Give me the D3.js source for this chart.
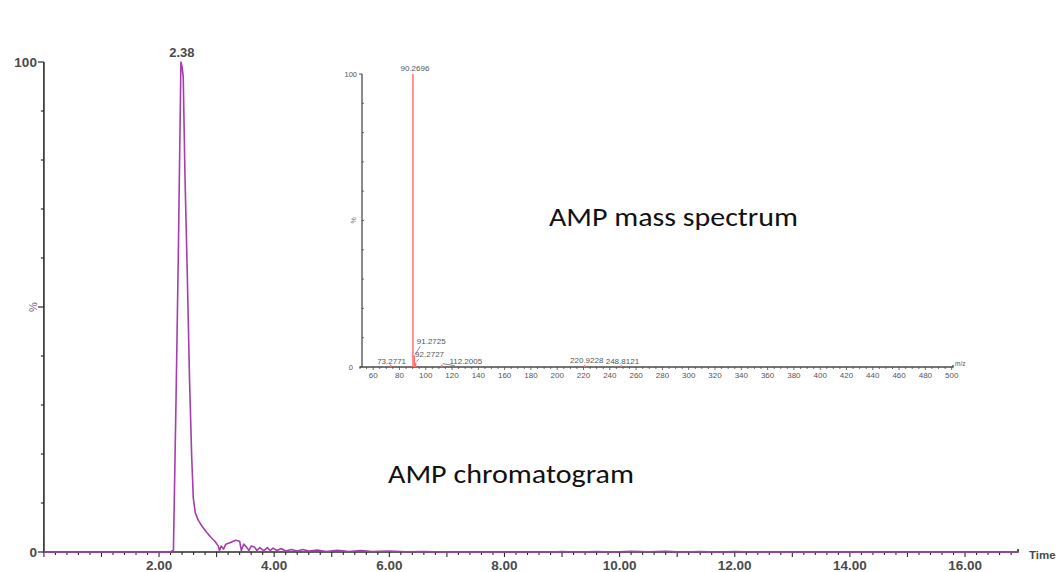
<!DOCTYPE html>
<html>
<head>
<meta charset="utf-8">
<script src="https://cdn.jsdelivr.net/npm/d3@7"></script>
<style>
  body { margin: 0; background: #fff; }
  svg { display: block; }
</style>
</head>
<body>
<svg id="chart" width="1059" height="572"></svg>
<script>
// ---------------- DATA ----------------
// Chromatogram (time, min) and relative intensity (%)
const chromTime = [0, 2.20, 2.25, 2.295, 2.334, 2.364, 2.38, 2.40, 2.42, 2.45, 2.49, 2.53, 2.567, 2.595, 2.63, 2.68,
  2.75, 2.83, 2.90, 2.97, 3.03, 3.05, 3.08, 3.12, 3.16, 3.25, 3.33, 3.40, 3.43, 3.47, 3.52, 3.56, 3.60, 3.66,
  3.70, 3.75, 3.82, 3.88, 3.93, 3.98, 4.05, 4.12, 4.20, 4.30, 4.40, 4.50, 4.60, 4.75, 4.90, 5.10, 5.30, 5.50,
  5.70, 6.00, 6.30, 6.60, 7.00, 8.80, 9.00, 9.30, 9.60, 9.90, 10.20, 10.50, 10.80, 11.10, 11.40, 11.70, 12.00,
  12.40, 16.92];
const chromIntensity = [0, 0, 0.4, 31, 60, 86, 100, 99, 97, 77, 57, 35, 19.5, 11, 8, 6.5,
  5.2, 4, 3, 2.2, 1.2, 0.3, 1.2, 0.6, 1.6, 2.0, 2.4, 2.2, 0.3, 1.6, 1.0, 0.3, 1.2, 1.0,
  0.3, 0.9, 0.3, 0.9, 0.3, 0.8, 0.3, 0.7, 0.2, 0.5, 0.2, 0.5, 0.2, 0.4, 0.1, 0.35, 0.1, 0.3,
  0.1, 0.2, 0.05, 0.1, 0, 0, 0.1, 0, 0.1, 0, 0.15, 0.05, 0.15, 0, 0.1, 0, 0.1,
  0, 0];
const peakLabel = "2.38";
const peakTime = 2.38;

const timeTickLabels = ["2.00", "4.00", "6.00", "8.00", "10.00", "12.00", "14.00", "16.00"];
const intensityTickLabels = ["0", "100"];

// Mass spectrum inset
const mzValues = [73.2771, 90.2696, 91.2725, 92.2727, 112.2005, 220.9228, 248.8121];
const mzIntensity = [0.8, 100, 4, 1.5, 0.8, 0.6, 0.6];
const mzTickLabels = [60, 80, 100, 120, 140, 160, 180, 200, 220, 240, 260, 280, 300, 320, 340, 360, 380,
  400, 420, 440, 460, 480, 500];

const titleSpectrum = "AMP mass spectrum";
const titleChrom = "AMP chromatogram";

// ---------------- LAYOUT ----------------
const svg = d3.select("#chart");
const axisColor = "#2b2b2b";
const textColor = "#4a4a4a";
const traceColor = "#a63cae";
const font = "Liberation Sans, Arial, sans-serif";

// Main chart scales
const x = d3.scaleLinear().domain([0, 16.92]).range([43.9, 1018]);
const y = d3.scaleLinear().domain([0, 100]).range([552, 62]);

// Y axis line
svg.append("line").attr("x1", x(0)).attr("x2", x(0)).attr("y1", y(0)).attr("y2", y(100))
  .attr("stroke", axisColor).attr("stroke-width", 1.6);
// Y ticks (every 10, longer at 0, 50, 100)
d3.range(0, 101, 10).forEach(v => {
  const len = (v % 50 === 0) ? 6 : 3;
  svg.append("line").attr("x1", x(0) - len).attr("x2", x(0)).attr("y1", y(v)).attr("y2", y(v))
    .attr("stroke", axisColor).attr("stroke-width", 1.2);
});
intensityTickLabels.forEach(l => {
  svg.append("text").attr("x", x(0) - 7).attr("y", y(+l)).attr("dy", "0.35em")
    .attr("text-anchor", "end").attr("font-family", font).attr("font-weight", "bold")
    .attr("font-size", 13.5).attr("fill", textColor).text(l);
});
svg.append("text").attr("transform", `translate(${x(0) - 11},${y(50)}) rotate(-90)`)
  .attr("text-anchor", "middle").attr("dy", "0.35em")
  .attr("font-family", font).attr("font-size", 11)
  .attr("fill", "#6a5a7a").text("%");

// X axis line with end hook
svg.append("path")
  .attr("d", `M${x(0)},${y(0)} H${x(16.92)} v-3`)
  .attr("fill", "none").attr("stroke", axisColor).attr("stroke-width", 1.6);
// X ticks every 0.2, longer every 1
d3.range(0, 85).forEach(i => {
  const t = i * 0.2;
  if (t > 16.92) return;
  const len = (i % 5 === 0) ? 5 : 3;
  svg.append("line").attr("x1", x(t)).attr("x2", x(t)).attr("y1", y(0)).attr("y2", y(0) + len)
    .attr("stroke", axisColor).attr("stroke-width", 1.1);
});
timeTickLabels.forEach(l => {
  svg.append("text").attr("x", x(+l)).attr("y", 570)
    .attr("text-anchor", "middle").attr("font-family", font).attr("font-weight", "bold")
    .attr("font-size", 13.5).attr("fill", textColor).text(l);
});
svg.append("text").attr("x", 1029).attr("y", 559)
  .attr("font-family", font).attr("font-size", 11.5).attr("font-weight", "bold")
  .attr("fill", textColor).text("Time");

// Chromatogram trace
const chromData = chromTime.map((t, i) => [t, chromIntensity[i]]);
const line = d3.line().x(d => x(d[0])).y(d => y(d[1]));
svg.append("path").datum(chromData).attr("d", line)
  .attr("fill", "none").attr("stroke", traceColor).attr("stroke-width", 1.6)
  .attr("stroke-linejoin", "round");
svg.append("text").attr("x", x(peakTime) + 1).attr("y", y(100) - 5)
  .attr("text-anchor", "middle").attr("font-family", font).attr("font-weight", "bold")
  .attr("font-size", 13).attr("fill", textColor).text(peakLabel);

// ---------------- INSET: mass spectrum ----------------
const mx = d3.scaleLinear().domain([50, 501]).range([360, 953]);
const my = d3.scaleLinear().domain([0, 100]).range([367, 74]);
const insetAxis = "#4a4a4a";
const insetText = "#555";

svg.append("line").attr("x1", mx(50) + 2).attr("x2", mx(50) + 2).attr("y1", my(0)).attr("y2", my(100))
  .attr("stroke", insetAxis).attr("stroke-width", 1.3);
svg.append("line").attr("x1", mx(50) + 2).attr("x2", mx(50) - 1).attr("y1", my(100)).attr("y2", my(100))
  .attr("stroke", insetAxis).attr("stroke-width", 1);
[10, 20, 30, 40, 50, 60, 70, 80, 90].forEach(v => {
  svg.append("line").attr("x1", mx(50) + 2).attr("x2", mx(50) + 4).attr("y1", my(v)).attr("y2", my(v))
    .attr("stroke", insetAxis).attr("stroke-width", 0.8);
});
svg.append("line").attr("x1", mx(50) - 1).attr("x2", mx(50) + 2).attr("y1", my(0)).attr("y2", my(0))
  .attr("stroke", insetAxis).attr("stroke-width", 1);
svg.append("text").attr("x", mx(50) - 3).attr("y", my(100)).attr("dy", "0.35em")
  .attr("text-anchor", "end").attr("font-family", font)
  .attr("font-size", 7.5).attr("fill", insetText).text("100");
svg.append("text").attr("x", mx(50) - 7).attr("y", my(0)).attr("dy", "0.35em")
  .attr("text-anchor", "end").attr("font-family", font)
  .attr("font-size", 7.5).attr("fill", insetText).text("0");
svg.append("text").attr("transform", `translate(${mx(50) - 6},${my(50)}) rotate(-90)`)
  .attr("text-anchor", "middle").attr("dy", "0.35em")
  .attr("font-family", font).attr("font-size", 7)
  .attr("fill", "#777").text("%");

// inset x axis
svg.append("path").attr("d", `M${mx(50)},${my(0)} H${mx(501)} v-2`)
  .attr("fill", "none").attr("stroke", insetAxis).attr("stroke-width", 1.3);
d3.range(50, 501, 5).forEach(v => {
  const len = (v % 20 === 0) ? 3 : 2;
  svg.append("line").attr("x1", mx(v)).attr("x2", mx(v)).attr("y1", my(0)).attr("y2", my(0) + len)
    .attr("stroke", insetAxis).attr("stroke-width", 0.8);
});
mzTickLabels.forEach(v => {
  svg.append("text").attr("x", mx(v)).attr("y", my(0) + 11)
    .attr("text-anchor", "middle").attr("font-family", font)
    .attr("font-size", 8).attr("fill", insetText).text(v);
});
svg.append("text").attr("x", 955).attr("y", my(0) - 1)
  .attr("font-family", font).attr("font-size", 6.5)
  .attr("fill", insetText).text("m/z");

// spectrum sticks
svg.selectAll(".stick").data(mzValues).enter().append("line")
  .attr("x1", d => mx(d)).attr("x2", d => mx(d))
  .attr("y1", my(0)).attr("y2", (d, i) => my(mzIntensity[i]))
  .attr("stroke", "#ff6f6f").attr("stroke-width", 1.5);

// peak labels: offsets from peak top (layout only)
const labelOffsets = [[1, -1], [2, -3], [17, -11], [14, -5.5], [24, -1], [2, -2], [1, -1]];
const leaderLines = [false, false, true, true, true, false, false];
mzValues.forEach((m, i) => {
  const px = mx(m), py = my(mzIntensity[i]);
  const [dx, dy] = labelOffsets[i];
  svg.append("text").attr("x", px + dx).attr("y", py + dy)
    .attr("text-anchor", "middle").attr("font-family", font)
    .attr("font-size", 8).attr("fill", insetText).text(m.toFixed(4));
  if (leaderLines[i]) {
    svg.append("line").attr("x1", px + 1).attr("y1", py - 1)
      .attr("x2", px + dx - 11).attr("y2", py + dy + 2)
      .attr("stroke", "#555").attr("stroke-width", 0.7);
  }
});

// Titles
svg.append("text").attr("x", 549).attr("y", 226)
  .attr("font-family", "Carlito, Lato, sans-serif").attr("font-size", 27)
  .attr("textLength", 249).attr("lengthAdjust", "spacingAndGlyphs")
  .attr("fill", "#111").text(titleSpectrum);
svg.append("text").attr("x", 388).attr("y", 483)
  .attr("font-family", "Carlito, Lato, sans-serif").attr("font-size", 27)
  .attr("textLength", 246).attr("lengthAdjust", "spacingAndGlyphs")
  .attr("fill", "#111").text(titleChrom);
</script>
</body>
</html>
